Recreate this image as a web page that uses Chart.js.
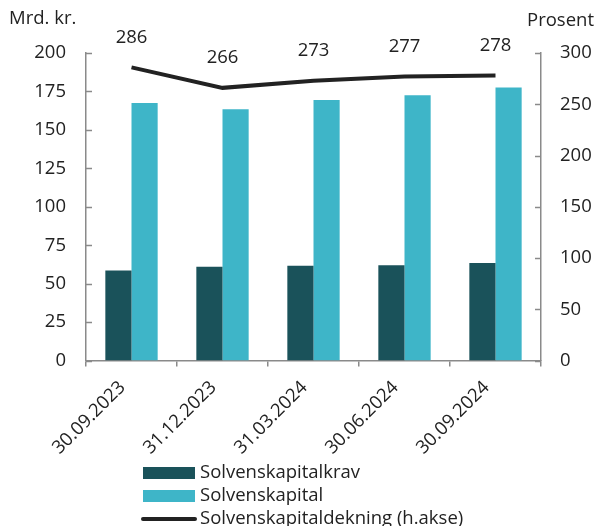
<!DOCTYPE html>
<html>
<head>
<meta charset="utf-8">
<script src="https://cdn.jsdelivr.net/npm/chart.js@4.4.1/dist/chart.umd.min.js"></script>
<style>
  html, body { margin: 0; padding: 0; background: #fff; }
  #wrap { width: 596px; height: 526px; position: relative; }
</style>
</head>
<body>
<div id="wrap"><canvas id="chart" width="596" height="526"></canvas></div>
<script>
// Data
const labels = ['30.09.2023', '31.12.2023', '31.03.2024', '30.06.2024', '30.09.2024'];
const kravData = [58.5, 61, 61.7, 62, 63.5];
const kapitalData = [167.5, 163.5, 169.5, 172.5, 177.5];
const dekningData = [286, 266, 273, 277, 278];
const leftTicks = [0, 25, 50, 75, 100, 125, 150, 175, 200];
const rightTicks = [0, 50, 100, 150, 200, 250, 300];

const FONT = "'Open Sans', sans-serif";
const FS = 18.5;
const TEXT = '#222';
const AXIS = '#8a8a8a';

// inward y ticks, axis titles, value labels and legend
const extras = {
    id: 'extras',
    afterDatasetsDraw(chart) {
        const ctx = chart.ctx;
        const yl = chart.scales.y;
        const yr = chart.scales.y1;
        ctx.save();
        ctx.strokeStyle = AXIS;
        ctx.lineWidth = 1.5;
        leftTicks.forEach(v => {
            const y = Math.round(yl.getPixelForValue(v)) + 0.5;
            ctx.beginPath(); ctx.moveTo(yl.right, y); ctx.lineTo(yl.right + 6, y); ctx.stroke();
        });
        rightTicks.forEach(v => {
            const y = Math.round(yr.getPixelForValue(v)) + 0.5;
            ctx.beginPath(); ctx.moveTo(yr.left, y); ctx.lineTo(yr.left - 6, y); ctx.stroke();
        });

        ctx.fillStyle = TEXT;
        ctx.font = FS + 'px ' + FONT;
        ctx.textBaseline = 'middle';
        ctx.textAlign = 'left';
        ctx.fillText('Mrd. kr.', 9, 19);
        ctx.textAlign = 'right';
        ctx.fillText('Prosent', 594, 21);

        // value labels above the line
        const meta = chart.getDatasetMeta(2);
        ctx.textAlign = 'center';
        meta.data.forEach((pt, i) => {
            ctx.fillText(String(dekningData[i]), pt.x, pt.y - 30);
        });

        // legend
        const items = [
            { type: 'box', color: chart.data.datasets[0].backgroundColor, text: chart.data.datasets[0].label },
            { type: 'box', color: chart.data.datasets[1].backgroundColor, text: chart.data.datasets[1].label },
            { type: 'line', color: chart.data.datasets[2].borderColor, text: chart.data.datasets[2].label }
        ];
        const lx = 143, ly = 473, step = 23;
        ctx.textAlign = 'left';
        items.forEach((it, i) => {
            const y = ly + i * step;
            if (it.type === 'box') {
                ctx.fillStyle = it.color;
                ctx.fillRect(lx, y - 6, 52, 12);
            } else {
                ctx.strokeStyle = it.color;
                ctx.lineWidth = 4;
                ctx.lineCap = 'round';
                ctx.beginPath(); ctx.moveTo(lx, y); ctx.lineTo(lx + 52, y); ctx.stroke();
            }
            ctx.fillStyle = TEXT;
            ctx.fillText(it.text, lx + 57, y);
        });
        ctx.restore();
    }
};

document.addEventListener('DOMContentLoaded', function() {
    const ctx = document.getElementById('chart').getContext('2d');
    new Chart(ctx, {
        type: 'bar',
        data: {
            labels: labels,
            datasets: [{
                label: 'Solvenskapitalkrav',
                data: kravData,
                backgroundColor: '#1a525a',
                yAxisID: 'y',
                barPercentage: 1,
                categoryPercentage: 0.575,
                order: 2
            }, {
                label: 'Solvenskapital',
                data: kapitalData,
                backgroundColor: '#3eb5c8',
                yAxisID: 'y',
                barPercentage: 1,
                categoryPercentage: 0.575,
                order: 2
            }, {
                type: 'line',
                label: 'Solvenskapitaldekning (h.akse)',
                data: dekningData,
                borderColor: '#222',
                borderWidth: 4,
                pointRadius: 0,
                tension: 0,
                yAxisID: 'y1',
                order: 1
            }]
        },
        options: {
            responsive: false,
            animation: false,
            layout: { padding: { top: 53, left: 0, right: 0, bottom: 57 } },
            plugins: {
                legend: { display: false },
                tooltip: { enabled: false }
            },
            scales: {
                x: {
                    afterFit: s => { s.paddingLeft = 0; s.paddingRight = 0; },
                    grid: { drawOnChartArea: false, drawTicks: true, tickLength: 6, color: AXIS, lineWidth: 1.5 },
                    border: { color: AXIS, width: 1.5 },
                    ticks: { color: TEXT, font: { family: FONT, size: FS }, minRotation: 45, maxRotation: 45, padding: 10, labelOffset: -9 }
                },
                y: {
                    position: 'left',
                    min: 0, max: 200,
                    afterBuildTicks: axis => { axis.ticks = leftTicks.map(v => ({ value: v })); },
                    afterFit: s => { s.width = 86; },
                    grid: { display: false, drawTicks: false },
                    border: { color: AXIS, width: 1.5 },
                    ticks: { color: TEXT, font: { family: FONT, size: FS }, padding: 20 }
                },
                y1: {
                    position: 'right',
                    min: 0, max: 300,
                    afterBuildTicks: axis => { axis.ticks = rightTicks.map(v => ({ value: v })); },
                    afterFit: s => { s.width = 55; },
                    grid: { display: false, drawTicks: false },
                    border: { color: AXIS, width: 1.5 },
                    ticks: { color: TEXT, font: { family: FONT, size: FS }, padding: 19 }
                }
            }
        },
        plugins: [extras]
    });
});
</script>
</body>
</html>
